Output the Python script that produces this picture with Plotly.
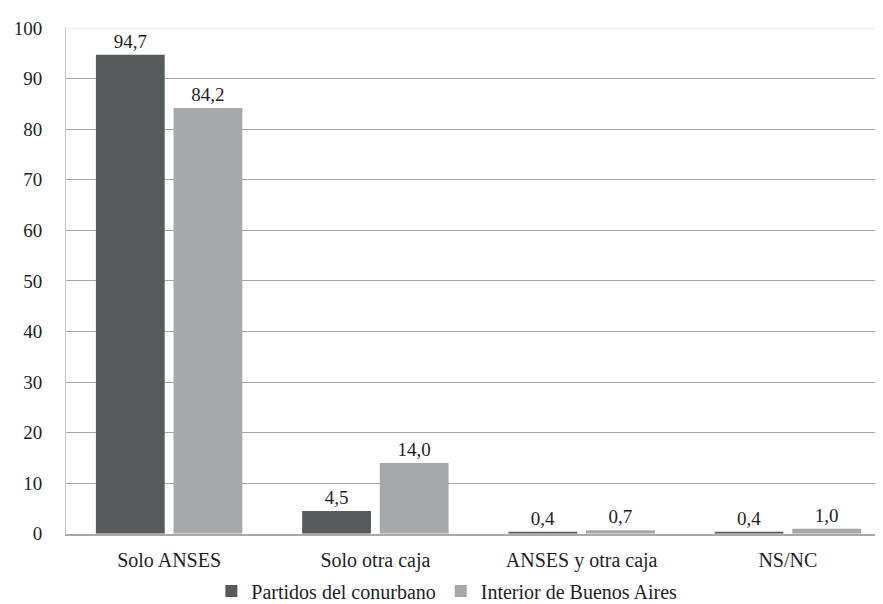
import plotly.graph_objects as go

categories = ["Solo ANSES", "Solo otra caja", "ANSES y otra caja", "NS/NC"]
series_names = ["Partidos del conurbano", "Interior de Buenos Aires"]
conurbano = [94.7, 4.5, 0.4, 0.4]
interior = [84.2, 14.0, 0.7, 1.0]
y_ticks = [0, 10, 20, 30, 40, 50, 60, 70, 80, 90, 100]

colors = ["#575b5b", "#a6a8a9"]
FONT = "Liberation Serif"
TXT = "#1e1e1e"

def fmt(v):
    return f"{v:.1f}".replace(".", ",")

fig = go.Figure()
for name, vals, col in zip(series_names, [conurbano, interior], colors):
    fig.add_trace(go.Bar(
        x=categories, y=vals, name=name,
        marker=dict(color=col, line=dict(width=0)),
        text=[fmt(v) for v in vals], textposition="outside",
        textfont=dict(family=FONT, size=19, color=TXT),
        cliponaxis=False,
    ))

fig.update_layout(
    width=883, height=604,
    margin=dict(l=58, r=0, t=20, b=67),
    paper_bgcolor="white", plot_bgcolor="white",
    barmode="group", bargap=0.247, bargroupgap=0.114,
    font=dict(family=FONT, size=19, color=TXT),
    showlegend=True,
    legend=dict(orientation="h", xref="container", x=0.497, xanchor="center",
                yref="container", y=(604 - 583) / 604, yanchor="middle",
                font=dict(family=FONT, size=20, color=TXT),
                traceorder="normal", itemwidth=30, tracegroupgap=0),
    xaxis=dict(showline=True, linecolor="#a9a9a9", linewidth=1.5,
               ticks="", showgrid=False, ticklabelstandoff=7,
               tickfont=dict(family=FONT, size=20, color=TXT)),
    yaxis=dict(range=[0, 100], tickvals=y_ticks, showgrid=True,
               gridcolor="#a6a6a6", gridwidth=1, zeroline=False,
               showline=True, linecolor="#c8c8c8", linewidth=1,
               ticks="", ticklabelstandoff=19,
               tickfont=dict(family=FONT, size=19, color=TXT)),
    shapes=[dict(type="line", xref="paper", x0=0, x1=1, yref="y",
                 y0=y_ticks[-1], y1=y_ticks[-1],
                 line=dict(color="#e6e6e6", width=1.5), layer="above")],
)

fig.write_html("out.html")
